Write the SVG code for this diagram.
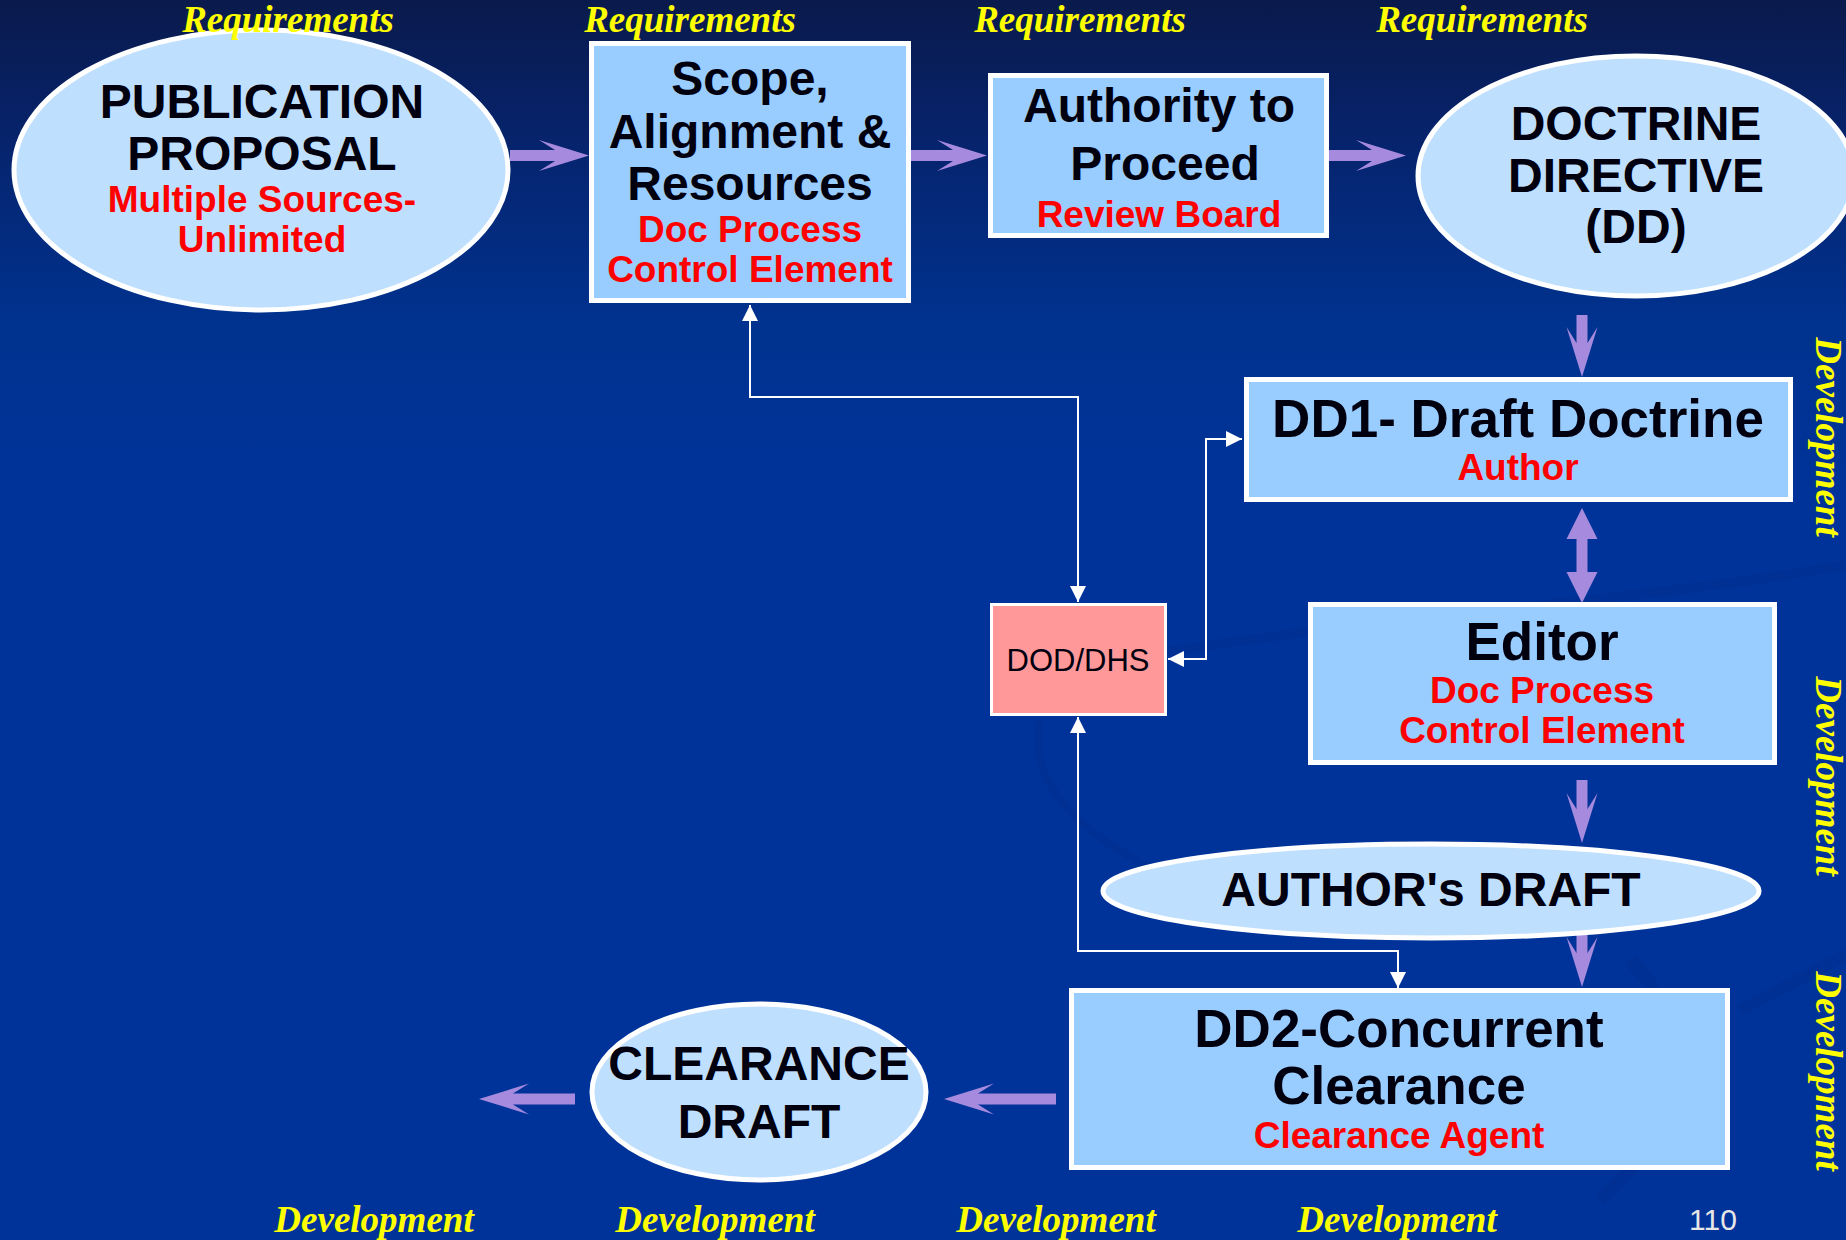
<svg xmlns="http://www.w3.org/2000/svg" width="1846" height="1240" viewBox="0 0 1846 1240">
  <defs>
    <linearGradient id="bg" x1="0" y1="0" x2="0" y2="1">
      <stop offset="0" stop-color="#0a1a4c"/>
      <stop offset="0.12" stop-color="#06246e"/>
      <stop offset="0.26" stop-color="#00328f"/>
      <stop offset="0.4" stop-color="#003399"/>
      <stop offset="1" stop-color="#003399"/>
    </linearGradient>
    <!-- purple block arrowhead with swept-back barbs; origin sits at the notch -->
    <marker id="ph" markerUnits="userSpaceOnUse" orient="auto" viewBox="-20 -17 56 34" markerWidth="56" markerHeight="34" refX="0" refY="0">
      <path d="M34,0 L-16,-15.5 L0,-5.5 L0,5.5 L-16,15.5 Z" fill="#a68add"/>
    </marker>
    <!-- plain purple triangle head for the two-way arrow -->
    <marker id="pt" markerUnits="userSpaceOnUse" orient="auto-start-reverse" viewBox="0 -16 32 32" markerWidth="32" markerHeight="32" refX="0" refY="0">
      <path d="M0,-15.5 L31,0 L0,15.5 Z" fill="#a68add"/>
    </marker>
    <!-- small white head for the coordination lines -->
    <marker id="wh" markerUnits="userSpaceOnUse" orient="auto-start-reverse" viewBox="0 -8 16 16" markerWidth="16" markerHeight="16" refX="16" refY="0">
      <path d="M0,-8 L16,0 L0,8 Z" fill="#ffffff"/>
    </marker>
    <style>
      .box { fill: #99ccff; stroke: #ffffff; stroke-width: 5; }
      .oval { fill: #bfdfff; stroke: #ffffff; stroke-width: 5; }
      .pink { fill: #ff9999; stroke: #ffffff; stroke-width: 3; }
      .t { font-family: "Liberation Sans", Arial, sans-serif; font-weight: bold; fill: #00000f; text-anchor: middle; }
      .t48 { font-size: 48px; }
      .t53 { font-size: 53px; }
      .r { font-family: "Liberation Sans", Arial, sans-serif; font-weight: bold; fill: #ff0000; text-anchor: middle; font-size: 37px; }
      .y { font-family: "Liberation Serif", "Times New Roman", serif; font-weight: bold; font-style: italic; fill: #ffff00; font-size: 37px; text-anchor: middle; }
      .pa { stroke: #a68add; stroke-width: 11; fill: none; }
      .wl { stroke: #ffffff; stroke-width: 2; fill: none; }
      .sw { fill: none; stroke: #002b88; }
    </style>
  </defs>

  <!-- background -->
  <rect x="0" y="0" width="1846" height="1240" fill="url(#bg)"/>
  <g id="swoosh" opacity="0.3">
    <path class="sw" stroke-width="10" d="M1166,652 C1400,615 1650,600 1846,565"/>
    <path class="sw" stroke-width="8" d="M1040,720 C1020,800 1120,880 1330,930"/>
    <path class="sw" stroke-width="14" d="M1630,960 C1700,1030 1690,1120 1600,1200"/>
    <path class="sw" stroke-width="12" d="M1740,1010 C1790,985 1825,965 1846,955"/>
  </g>

  <!-- connectors -->
  <g id="connectors">
    <line class="pa" x1="510" y1="155.5" x2="555" y2="155.5" marker-end="url(#ph)"/>
    <line class="pa" x1="911" y1="155.5" x2="953" y2="155.5" marker-end="url(#ph)"/>
    <line class="pa" x1="1329" y1="155.5" x2="1372" y2="155.5" marker-end="url(#ph)"/>
    <line class="pa" x1="1582" y1="315" x2="1582" y2="343" marker-end="url(#ph)"/>
    <line class="pa" x1="1582" y1="539" x2="1582" y2="572" marker-start="url(#pt)" marker-end="url(#pt)"/>
    <line class="pa" x1="1582" y1="780" x2="1582" y2="809" marker-end="url(#ph)"/>
    <line class="pa" x1="1582" y1="925" x2="1582" y2="953" marker-end="url(#ph)"/>
    <line class="pa" x1="1056" y1="1099" x2="978" y2="1099" marker-end="url(#ph)"/>
    <line class="pa" x1="575" y1="1099" x2="513" y2="1099" marker-end="url(#ph)"/>

    <path class="wl" d="M750,305 V397 H1078 V602" marker-start="url(#wh)" marker-end="url(#wh)"/>
    <path class="wl" d="M1168,659 H1206 V439 H1242" marker-start="url(#wh)" marker-end="url(#wh)"/>
    <path class="wl" d="M1078,717 V951 H1398 V988" marker-start="url(#wh)" marker-end="url(#wh)"/>
  </g>

  <!-- nodes -->
  <g id="publication-proposal">
    <ellipse class="oval" cx="261" cy="170" rx="247" ry="140"/>
    <text class="t t48" x="262" y="118">PUBLICATION</text>
    <text class="t t48" x="262" y="170">PROPOSAL</text>
    <text class="r" x="262" y="212">Multiple Sources-</text>
    <text class="r" x="262" y="252">Unlimited</text>
  </g>

  <g id="scope">
    <rect class="box" x="591.5" y="43.5" width="317" height="257"/>
    <text class="t t48" x="750" y="95">Scope,</text>
    <text class="t t48" x="750" y="148">Alignment &amp;</text>
    <text class="t t48" x="750" y="200">Resources</text>
    <text class="r" x="750" y="242">Doc Process</text>
    <text class="r" x="750" y="282">Control Element</text>
  </g>

  <g id="authority">
    <rect class="box" x="990.5" y="75.5" width="336" height="160"/>
    <text class="t t48" x="1159" y="122">Authority to</text>
    <text class="t t48" x="1165" y="180">Proceed</text>
    <text class="r" x="1159" y="227">Review Board</text>
  </g>

  <g id="doctrine-directive">
    <ellipse class="oval" cx="1636" cy="176" rx="218" ry="120"/>
    <text class="t t48" x="1636" y="140">DOCTRINE</text>
    <text class="t t48" x="1636" y="192">DIRECTIVE</text>
    <text class="t t48" x="1636" y="243">(DD)</text>
  </g>

  <g id="dd1">
    <rect class="box" x="1246.5" y="379.5" width="544" height="120"/>
    <text class="t t53" x="1518" y="437">DD1- Draft Doctrine</text>
    <text class="r" x="1518" y="480">Author</text>
  </g>

  <g id="editor">
    <rect class="box" x="1310.5" y="604.5" width="464" height="158"/>
    <text class="t t53" x="1542" y="660">Editor</text>
    <text class="r" x="1542" y="703">Doc Process</text>
    <text class="r" x="1542" y="743">Control Element</text>
  </g>

  <g id="dod-dhs">
    <rect class="pink" x="991.5" y="604.5" width="174" height="110"/>
    <text x="1078" y="671" font-family="Liberation Sans, Arial, sans-serif" font-size="31" fill="#00000f" text-anchor="middle">DOD/DHS</text>
  </g>

  <g id="authors-draft">
    <ellipse class="oval" cx="1431" cy="891" rx="328" ry="47"/>
    <text class="t t48" x="1431" y="906">AUTHOR's DRAFT</text>
  </g>

  <g id="dd2">
    <rect class="box" x="1071.5" y="990.5" width="656" height="177"/>
    <text class="t t53" x="1399" y="1047">DD2-Concurrent</text>
    <text class="t t53" x="1399" y="1104">Clearance</text>
    <text class="r" x="1399" y="1148">Clearance Agent</text>
  </g>

  <g id="clearance-draft">
    <ellipse class="oval" cx="759" cy="1092" rx="167" ry="88"/>
    <text class="t t48" x="759" y="1080">CLEARANCE</text>
    <text class="t t48" x="759" y="1138">DRAFT</text>
  </g>

  <!-- phase labels -->
  <g id="phase-labels">
    <text class="y" x="288" y="32">Requirements</text>
    <text class="y" x="690" y="32">Requirements</text>
    <text class="y" x="1080" y="32">Requirements</text>
    <text class="y" x="1482" y="32">Requirements</text>

    <text class="y" x="374" y="1232">Development</text>
    <text class="y" x="715" y="1232">Development</text>
    <text class="y" x="1056" y="1232">Development</text>
    <text class="y" x="1397" y="1232">Development</text>

    <text class="y" transform="translate(1816,437) rotate(90)" x="0" y="0">Development</text>
    <text class="y" transform="translate(1816,776) rotate(90)" x="0" y="0">Development</text>
    <text class="y" transform="translate(1816,1071) rotate(90)" x="0" y="0">Development</text>
  </g>

  <text id="page-number" x="1713" y="1230" font-family="Liberation Sans, Arial, sans-serif" font-size="30" fill="#e6e6e6" text-anchor="middle">110</text>
</svg>
